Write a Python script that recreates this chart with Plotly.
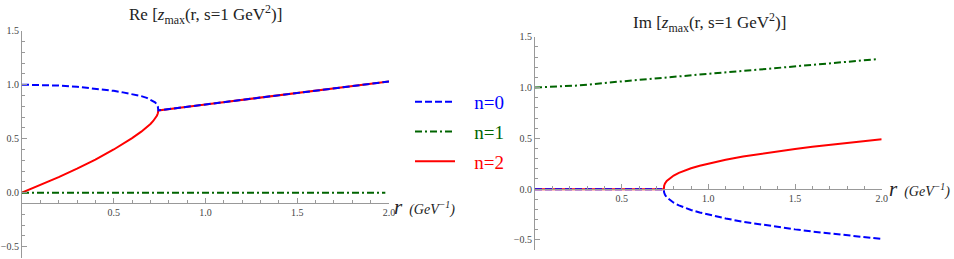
import plotly.graph_objects as go

# ---------------- data ----------------
# Left panel: Re z_max (two branches that merge at r ~ 0.743)
r_branch = [0, 0.1, 0.2, 0.3, 0.4, 0.5, 0.55, 0.6, 0.65, 0.68, 0.70, 0.715, 0.725, 0.735, 0.74, 0.743]
re_n0_branch = [1.0, 0.998, 0.992, 0.981, 0.965, 0.943, 0.929, 0.913, 0.894, 0.878, 0.863, 0.849, 0.837, 0.818, 0.80, 0.762]
re_n2_branch = [0.0, 0.07, 0.144, 0.222, 0.306, 0.40, 0.452, 0.506, 0.565, 0.605, 0.637, 0.664, 0.686, 0.713, 0.733, 0.762]
r_merged = [0.743, 1.0, 1.25, 1.5, 1.75, 2.0]
re_merged = [0.762, 0.817, 0.870, 0.923, 0.977, 1.03]
r_n1 = [0, 0.25, 0.5, 0.75, 1.0, 1.25, 1.5, 1.75, 1.98]
re_n1 = [0, 0, 0, 0, 0, 0, 0, 0, 0]

# Right panel: Im z_max
im_n1 = [1.0, 1.02, 1.06, 1.10, 1.135, 1.17, 1.21, 1.245, 1.28]
r_im = [0, 0.25, 0.5, 0.743, 0.745, 0.75, 0.76, 0.78, 0.80, 0.83, 0.86, 0.9, 0.95,
        1.0, 1.1, 1.2, 1.3, 1.4, 1.5, 1.6, 1.7, 1.8, 1.9, 2.0]
im_n2 = [0, 0, 0, 0, 0.033, 0.056, 0.081, 0.112, 0.134, 0.160, 0.181, 0.205, 0.230,
         0.252, 0.289, 0.321, 0.348, 0.373, 0.396, 0.417, 0.437, 0.455, 0.473, 0.49]
im_n0 = [0, 0, 0, 0, -0.033, -0.056, -0.081, -0.112, -0.134, -0.160, -0.181, -0.205, -0.230,
         -0.252, -0.289, -0.321, -0.348, -0.373, -0.396, -0.417, -0.437, -0.455, -0.473, -0.49]

series_names = ["n=0", "n=1", "n=2"]
series_colors = ["#0000ff", "#006400", "#ff0000"]
titles = ["Re [<i>z</i><sub>max</sub>(r, s=1 GeV<sup>2</sup>)]",
          "Im [<i>z</i><sub>max</sub>(r, s=1 GeV<sup>2</sup>)]"]
x_ticks = [0.5, 1.0, 1.5, 2.0]
x_ticktext = ["0.5", "1.0", "1.5", "2.0"]

# ---------------- figure ----------------
W, H = 954, 259
FONT = "Liberation Serif, Times New Roman, DejaVu Serif, serif"
BLUE_DASH = "7px,3px"
GREEN_DASH = "7px,3px,2px,3px"

def fx(p):
    return p / W

def fy(p):
    return 1 - p / H

fig = go.Figure()

re_n0 = re_n0_branch + re_merged[1:]
re_n2 = re_n2_branch + re_merged[1:]
r_re = r_branch + r_merged[1:]

def legend_name(i):
    return f'<span style="color:{series_colors[i]}">\u00a0\u00a0\u00a0{series_names[i]}</span>'

# left panel
fig.add_trace(go.Scatter(x=r_re, y=re_n2, mode="lines", xaxis="x", yaxis="y",
                         line=dict(color=series_colors[2], width=2),
                         name=legend_name(2), legendrank=3, legendgroup="g2"))
fig.add_trace(go.Scatter(x=r_re, y=re_n0, mode="lines", xaxis="x", yaxis="y",
                         line=dict(color=series_colors[0], width=2, dash=BLUE_DASH),
                         name=legend_name(0), legendrank=1, legendgroup="g0"))
fig.add_trace(go.Scatter(x=r_n1, y=re_n1, mode="lines", xaxis="x", yaxis="y",
                         line=dict(color=series_colors[1], width=2, dash=GREEN_DASH),
                         name=legend_name(1), legendrank=2, legendgroup="g1"))

# right panel
fig.add_trace(go.Scatter(x=r_im, y=im_n2, mode="lines", xaxis="x2", yaxis="y2",
                         line=dict(color=series_colors[2], width=2),
                         showlegend=False))
fig.add_trace(go.Scatter(x=r_im, y=im_n0, mode="lines", xaxis="x2", yaxis="y2",
                         line=dict(color=series_colors[0], width=2, dash=BLUE_DASH),
                         showlegend=False))
fig.add_trace(go.Scatter(x=r_n1, y=im_n1, mode="lines", xaxis="x2", yaxis="y2",
                         line=dict(color=series_colors[1], width=2, dash=GREEN_DASH),
                         showlegend=False))

AXC = "#999999"
TICKFONT = dict(family=FONT, size=10, color="#444444")

def xaxis(dom, pos):
    return dict(domain=dom, range=[0, 2.0], anchor="free", position=pos, automargin=False,
                showline=True, linecolor=AXC, linewidth=1, showgrid=False, zeroline=False,
                tickmode="array", tickvals=x_ticks, ticktext=x_ticktext,
                ticks="inside", ticklen=5, tickcolor=AXC, tickfont=TICKFONT,
                minor=dict(dtick=0.1, tick0=0, ticks="inside", ticklen=3, tickcolor=AXC),
                fixedrange=True)

def yaxis(dom, anchor):
    return dict(domain=dom, range=[-0.6, 1.5], anchor=anchor, automargin=False,
                showline=True, linecolor=AXC, linewidth=1, showgrid=False, zeroline=False,
                tickmode="linear", tick0=0, dtick=0.5, tickformat=".1f",
                ticks="inside", ticklen=5, tickcolor=AXC, tickfont=TICKFONT,
                minor=dict(dtick=0.1, tick0=0, ticks="inside", ticklen=3, tickcolor=AXC),
                fixedrange=True)

fig.update_layout(
    width=W, height=H,
    margin=dict(l=0, r=0, t=0, b=0, autoexpand=False),
    paper_bgcolor="white", plot_bgcolor="white",
    font=dict(family=FONT, color="#222222"),
    xaxis=xaxis([fx(22), fx(389)], fy(202.7)),
    yaxis=yaxis([fy(257.5), fy(30.7)], "x"),
    xaxis2=xaxis([fx(535), fx(881.7)], fy(189.3)),
    yaxis2=yaxis([fy(250.1), fy(36.7)], "x2"),
    legend=dict(x=fx(410), y=fy(83), xanchor="left", yanchor="top",
                font=dict(family=FONT, size=19), itemwidth=40,
                tracegroupgap=2, bgcolor="rgba(0,0,0,0)"),
    showlegend=True,
    hovermode=False,
)

ann = []
ann.append(dict(text=titles[0], x=fx(205), y=fy(15), xref="paper", yref="paper",
                showarrow=False, font=dict(family=FONT, size=17, color="#222222"),
                xanchor="center", yanchor="middle"))
ann.append(dict(text=titles[1], x=fx(709), y=fy(22), xref="paper", yref="paper",
                showarrow=False, font=dict(family=FONT, size=17, color="#222222"),
                xanchor="center", yanchor="middle"))
axis_label = '<span style="font-size:21px"><i>r</i></span>  <i>(GeV<sup>−1</sup>)</i>'
ann.append(dict(text=axis_label, x=fx(392), y=fy(207), xref="paper", yref="paper",
                showarrow=False, font=dict(family=FONT, size=14, color="#222222"),
                xanchor="left", yanchor="middle"))
ann.append(dict(text=axis_label, x=fx(887), y=fy(189), xref="paper", yref="paper",
                showarrow=False, font=dict(family=FONT, size=14, color="#222222"),
                xanchor="left", yanchor="middle"))
fig.update_layout(annotations=ann)

fig.write_html("out.html", config={"displayModeBar": False},
               post_script="document.body.style.margin='0';")
